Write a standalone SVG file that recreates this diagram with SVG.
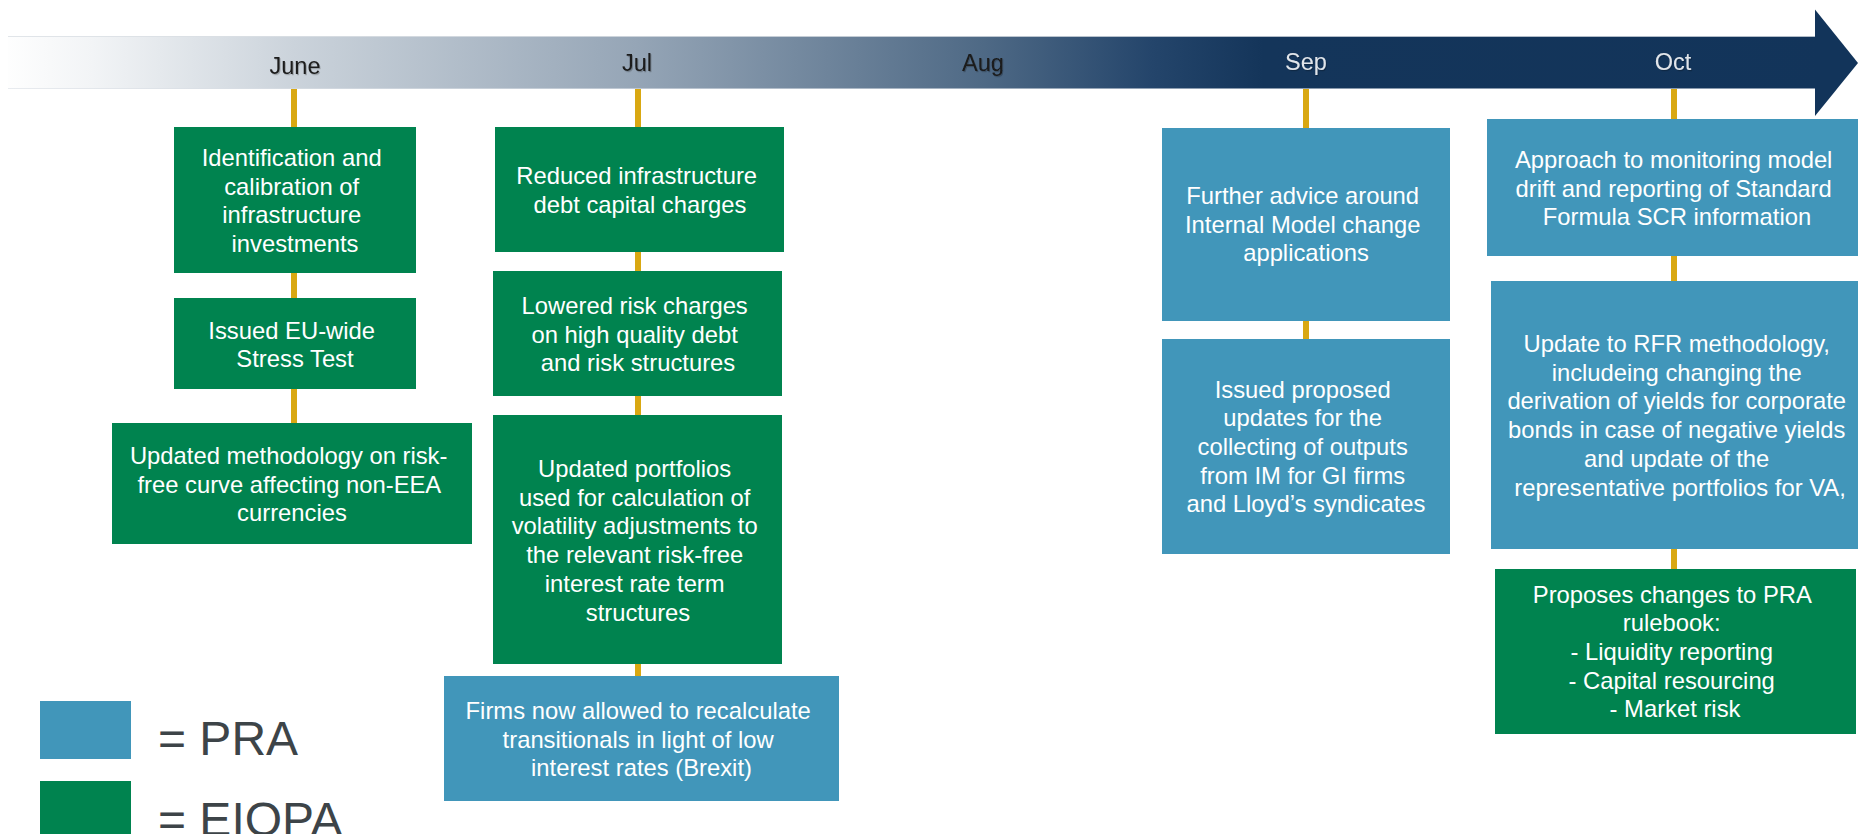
<svg xmlns="http://www.w3.org/2000/svg" width="1858" height="834" viewBox="0 0 1858 834">
  <defs>
    <linearGradient id="bandFill" gradientUnits="userSpaceOnUse" x1="0" y1="0" x2="1858" y2="0">
      <stop offset="0" stop-color="#ffffff"/>
      <stop offset="0.05" stop-color="#f2f4f6"/>
      <stop offset="0.158" stop-color="#cbd3db"/>
      <stop offset="0.343" stop-color="#95a5b6"/>
      <stop offset="0.53" stop-color="#4e6985"/>
      <stop offset="0.62" stop-color="#24456b"/>
      <stop offset="0.68" stop-color="#14355a"/>
      <stop offset="1" stop-color="#12345a"/>
    </linearGradient>
    <filter id="soft" x="-10%" y="-20%" width="130%" height="150%">
      <feDropShadow dx="1" dy="1.2" stdDeviation="0.7" flood-color="#000000" flood-opacity="0.25"/>
    </filter>
  </defs>
  <style>
    .pra { fill: #4196ba; }
    .eiopa { fill: #00834f; }
    .lbl { font-family: "Liberation Sans", Arial, sans-serif; font-size: 23.8px; fill: #ffffff; text-anchor: middle; }
    .month { font-family: "Liberation Sans", Arial, sans-serif; font-size: 23.5px; text-anchor: middle; }
    .dark { fill: #1a1a1a; }
    .light { fill: #e1e5ea; }
    .stem { stroke: #d9a812; stroke-width: 6; fill: none; }
    .key { font-family: "Liberation Sans", Arial, sans-serif; font-size: 48px; fill: #3d4448; }
  </style>

  <!-- Timeline arrow -->
  <g id="timeline">
    <rect x="8" y="36" width="1810" height="53" fill="url(#bandFill)"/>
    <line x1="8" y1="36.5" x2="1815" y2="36.5" stroke="#d9dee4" stroke-width="1.2" stroke-opacity="0.8"/>
    <line x1="8" y1="88.5" x2="1815" y2="88.5" stroke="#d9dee4" stroke-width="1.2" stroke-opacity="0.6"/>
    <polygon points="1815,9.5 1858,63 1815,116" fill="#12345a"/>
    <g filter="url(#soft)">
      <text class="month dark" x="295" y="73.5">June</text>
      <text class="month dark" x="637" y="70.5">Jul</text>
      <text class="month dark" x="983" y="70.5">Aug</text>
      <text class="month light" x="1306" y="70">Sep</text>
      <text class="month light" x="1673" y="70">Oct</text>
    </g>
  </g>

  <!-- Stems from each month down through its events -->
  <g id="connectors">
    <line class="stem" x1="294" y1="89" x2="294" y2="540"/>
    <line class="stem" x1="638" y1="89" x2="638" y2="680"/>
    <line class="stem" x1="1306" y1="89" x2="1306" y2="342"/>
    <line class="stem" x1="1674" y1="89" x2="1674" y2="572"/>
  </g>

  <!-- June -->
  <g id="june-infrastructure">
    <rect class="eiopa" x="174" y="127" width="242" height="146"/>
    <text class="lbl" x="295" y="166">
      <tspan x="295">Identification and</tspan>
      <tspan x="295" dy="28.7">calibration of</tspan>
      <tspan x="295" dy="28.7">infrastructure</tspan>
      <tspan x="295" dy="28.7">investments</tspan>
    </text>
  </g>
  <g id="june-stress-test">
    <rect class="eiopa" x="174" y="298" width="242" height="91"/>
    <text class="lbl" x="295" y="338.5">
      <tspan x="295">Issued EU-wide</tspan>
      <tspan x="295" dy="28.7">Stress Test</tspan>
    </text>
  </g>
  <g id="june-risk-free">
    <rect class="eiopa" x="112" y="423" width="360" height="121"/>
    <text class="lbl" x="292" y="464">
      <tspan x="292">Updated methodology on risk-</tspan>
      <tspan x="292" dy="28.7">free curve affecting non-EEA</tspan>
      <tspan x="292" dy="28.7">currencies</tspan>
    </text>
  </g>

  <!-- July -->
  <g id="jul-infra-debt">
    <rect class="eiopa" x="495" y="127" width="289" height="125"/>
    <text class="lbl" x="640" y="184">
      <tspan x="640">Reduced infrastructure</tspan>
      <tspan x="640" dy="28.7">debt capital charges</tspan>
    </text>
  </g>
  <g id="jul-risk-charges">
    <rect class="eiopa" x="493" y="271" width="289" height="125"/>
    <text class="lbl" x="638" y="314">
      <tspan x="638">Lowered risk charges</tspan>
      <tspan x="638" dy="28.7">on high quality debt</tspan>
      <tspan x="638" dy="28.7">and risk structures</tspan>
    </text>
  </g>
  <g id="jul-portfolios">
    <rect class="eiopa" x="493" y="415" width="289" height="249"/>
    <text class="lbl" x="638" y="477">
      <tspan x="638">Updated portfolios</tspan>
      <tspan x="638" dy="28.7">used for calculation of</tspan>
      <tspan x="638" dy="28.7">volatility adjustments to</tspan>
      <tspan x="638" dy="28.7">the relevant risk-free</tspan>
      <tspan x="638" dy="28.7">interest rate term</tspan>
      <tspan x="638" dy="28.7">structures</tspan>
    </text>
  </g>
  <g id="jul-transitionals">
    <rect class="pra" x="444" y="676" width="395" height="125"/>
    <text class="lbl" x="641.5" y="719">
      <tspan x="641.5">Firms now allowed to recalculate</tspan>
      <tspan x="641.5" dy="28.7">transitionals in light of low</tspan>
      <tspan x="641.5" dy="28.7">interest rates (Brexit)</tspan>
    </text>
  </g>

  <!-- September -->
  <g id="sep-model-change">
    <rect class="pra" x="1162" y="128" width="288" height="193"/>
    <text class="lbl" x="1306" y="204">
      <tspan x="1306">Further advice around</tspan>
      <tspan x="1306" dy="28.7">Internal Model change</tspan>
      <tspan x="1306" dy="28.7">applications</tspan>
    </text>
  </g>
  <g id="sep-im-outputs">
    <rect class="pra" x="1162" y="339" width="288" height="215"/>
    <text class="lbl" x="1306" y="397.5">
      <tspan x="1306">Issued proposed</tspan>
      <tspan x="1306" dy="28.7">updates for the</tspan>
      <tspan x="1306" dy="28.7">collecting of outputs</tspan>
      <tspan x="1306" dy="28.7">from IM for GI firms</tspan>
      <tspan x="1306" dy="28.7">and Lloyd’s syndicates</tspan>
    </text>
  </g>

  <!-- October -->
  <g id="oct-model-drift">
    <rect class="pra" x="1487" y="119" width="380" height="137"/>
    <text class="lbl" x="1677" y="168">
      <tspan x="1677">Approach to monitoring model</tspan>
      <tspan x="1677" dy="28.7">drift and reporting of Standard</tspan>
      <tspan x="1677" dy="28.7">Formula SCR information</tspan>
    </text>
  </g>
  <g id="oct-rfr">
    <rect class="pra" x="1491" y="281" width="380" height="268"/>
    <text class="lbl" x="1680" y="352">
      <tspan x="1680">Update to RFR methodology,</tspan>
      <tspan x="1680" dy="28.7">includeing changing the</tspan>
      <tspan x="1680" dy="28.7">derivation of yields for corporate</tspan>
      <tspan x="1680" dy="28.7">bonds in case of negative yields</tspan>
      <tspan x="1680" dy="28.7">and update of the</tspan>
      <tspan x="1680" dy="28.7">representative portfolios for VA,</tspan>
    </text>
  </g>
  <g id="oct-rulebook">
    <rect class="eiopa" x="1495" y="569" width="361" height="165"/>
    <text class="lbl" x="1675" y="602.5">
      <tspan x="1675">Proposes changes to PRA</tspan>
      <tspan x="1675" dy="28.7">rulebook:</tspan>
      <tspan x="1675" dy="28.7">- Liquidity reporting</tspan>
      <tspan x="1675" dy="28.7">- Capital resourcing</tspan>
      <tspan x="1675" dy="28.7">- Market risk</tspan>
    </text>
  </g>

  <!-- Key -->
  <g id="legend">
    <rect class="pra" x="40" y="701" width="91" height="58"/>
    <text class="key" x="158" y="755">= PRA</text>
    <rect class="eiopa" x="40" y="781" width="91" height="60"/>
    <text class="key" x="158" y="836">= EIOPA</text>
  </g>
</svg>
